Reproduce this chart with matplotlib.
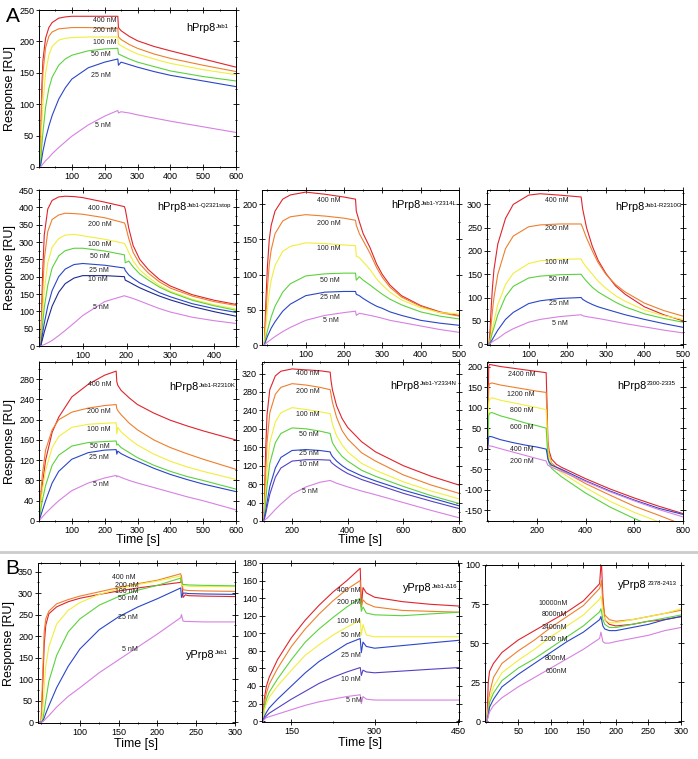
import matplotlib
matplotlib.use("Agg")
import matplotlib.pyplot as plt
from matplotlib.lines import Line2D
from matplotlib.ticker import AutoMinorLocator

plt.rcParams["font.family"] = ["Liberation Sans", "DejaVu Sans"]
plt.rcParams["axes.unicode_minus"] = False

RED = "#e0242c"
ORANGE = "#ee7f2d"
YELLOW = "#f1ee3c"
GREEN = "#5cd23c"
BLUE = "#2a46c8"
NAVY = "#1d2a90"
PURPLE = "#5241c6"
VIOLET = "#d681e2"

# ---- hPrp8 Jab1
jab1_t = [0, 4, 8, 12, 20, 30, 40, 60, 80, 100, 150, 200, 240, 242, 250, 275, 300, 350, 400, 500, 600]
jab1_y = [
    [0, 0, 120, 170, 205, 222, 230, 237, 239, 240, 240, 240, 240, 222, 217, 208, 201, 192, 185, 172, 159],
    [0, 0, 100, 150, 190, 208, 215, 220, 221, 222, 222, 221, 221, 207, 203, 195, 189, 180, 173, 162, 152],
    [0, 0, 60, 100, 150, 178, 192, 202, 205, 206, 207, 207, 207, 196, 193, 186, 180, 172, 165, 155, 147],
    [0, 0, 30, 55, 95, 125, 143, 162, 172, 178, 185, 188, 189, 180, 178, 172, 167, 160, 153, 144, 137],
    [0, 0, 12, 25, 45, 65, 82, 108, 126, 140, 158, 167, 172, 162, 167, 163, 159, 152, 146, 137, 128],
    [0, 0, 2, 5, 10, 15, 21, 31, 40, 49, 67, 81, 90, 86, 88, 86, 83, 78, 73, 64, 55],
]
jab1_conc = ["400 nM", "200 nM", "100 nM", "50 nM", "25 nM", "5 nM"]

# ---- hPrp8 Jab1-Q2321stop
q2321_t = [0, 4, 8, 12, 20, 30, 45, 60, 80, 100, 150, 195, 197, 205, 215, 230, 250, 275, 300, 350, 400, 450]
q2321_y = [
    [0, 0, 200, 320, 395, 420, 430, 432, 431, 428, 415, 402, 395, 340, 290, 250, 220, 192, 173, 148, 132, 120],
    [0, 0, 150, 250, 330, 365, 378, 383, 382, 380, 370, 355, 350, 310, 270, 237, 210, 185, 167, 144, 128, 117],
    [0, 0, 90, 160, 240, 285, 310, 320, 322, 318, 308, 296, 292, 270, 245, 220, 198, 175, 158, 135, 119, 107],
    [0, 0, 60, 110, 175, 225, 260, 275, 282, 282, 274, 263, 240, 245, 228, 208, 190, 170, 155, 132, 116, 103],
    [0, 0, 35, 65, 115, 160, 200, 222, 235, 238, 233, 225, 218, 205, 195, 182, 170, 154, 142, 122, 108, 97],
    [0, 0, 20, 40, 75, 115, 155, 180, 196, 203, 203, 200, 190, 185, 178, 168, 157, 144, 133, 114, 99, 86],
    [0, 0, 2, 4, 9, 16, 30, 45, 66, 88, 128, 145, 144, 141, 137, 130, 120, 108, 98, 83, 73, 65],
]
q2321_conc = ["400 nM", "200 nM", "100 nM", "50 nM", "25 nM", "10 nM", "5 nM"]

# ---- hPrp8 Jab1-Y2314L
y2314_t = [-8, -4, 0, 5, 10, 20, 40, 60, 100, 150, 200, 230, 232, 240, 250, 268, 285, 300, 320, 350, 400, 450, 500]
y2314_y = [
    [0, 60, 110, 150, 170, 190, 207, 213, 217, 214, 210, 207, 190, 175, 158, 138, 115, 100, 85, 70, 56, 47, 42],
    [0, 40, 80, 115, 135, 158, 176, 182, 185, 183, 180, 177, 170, 158, 148, 130, 110, 96, 82, 68, 55, 46, 41],
    [0, 25, 50, 75, 92, 113, 133, 140, 145, 144, 142, 141, 126, 124, 118, 107, 94, 85, 75, 64, 53, 46, 44],
    [0, 10, 20, 30, 40, 55, 75, 87, 98, 101, 102, 102, 92, 97, 92, 85, 78, 72, 65, 57, 47, 41, 37],
    [0, 6, 12, 18, 24, 33, 48, 58, 70, 75, 76, 76, 72, 70, 66, 60, 55, 52, 47, 42, 35, 31, 28],
    [0, 2, 4, 6, 8, 12, 19, 25, 35, 42, 46, 48, 42, 45, 44, 42, 40, 38, 35, 32, 27, 22, 18],
]
y2314_conc = ["400 nM", "200 nM", "100 nM", "50 nM", "25 nM", "5 nM"]

# ---- hPrp8 Jab1-R2310G
r2310g_t = [-3, 0, 3, 6, 10, 20, 40, 60, 100, 130, 180, 236, 240, 250, 265, 280, 300, 325, 350, 400, 450, 500]
r2310g_y = [
    [0, 30, 80, 120, 160, 215, 270, 300, 320, 323, 320, 316, 290, 250, 210, 180, 152, 125, 107, 80, 63, 50],
    [0, 15, 45, 70, 100, 150, 205, 232, 252, 256, 258, 258, 250, 228, 200, 175, 150, 128, 112, 88, 72, 60],
    [0, 7, 20, 33, 48, 85, 128, 152, 173, 179, 182, 183, 176, 165, 150, 135, 120, 104, 92, 73, 61, 53],
    [0, 5, 15, 25, 35, 63, 102, 124, 142, 146, 149, 150, 145, 135, 122, 112, 102, 90, 80, 65, 55, 47],
    [0, 2, 6, 10, 16, 30, 53, 68, 87, 93, 98, 100, 96, 91, 85, 80, 75, 69, 63, 53, 44, 36],
    [0, 1, 3, 5, 7, 12, 24, 33, 47, 53, 59, 63, 61, 59, 57, 55, 52, 48, 44, 37, 30, 24],
]
r2310g_conc = ["400 nM", "200 nM", "100 nM", "50 nM", "25 nM", "5 nM"]

# ---- hPrp8 Jab1-R2310K
r2310k_t = [0, 3, 6, 10, 20, 40, 60, 100, 150, 200, 235, 237, 240, 250, 275, 300, 350, 400, 450, 500, 600]
r2310k_y = [
    [0, 20, 45, 70, 120, 175, 205, 245, 270, 288, 296, 275, 268, 258, 243, 230, 213, 199, 188, 178, 160],
    [0, 30, 60, 90, 140, 180, 200, 215, 223, 228, 230, 222, 218, 210, 193, 180, 160, 145, 133, 122, 102],
    [0, 20, 40, 60, 100, 145, 167, 185, 191, 193, 194, 172, 185, 176, 162, 150, 132, 118, 107, 98, 82],
    [0, 12, 25, 40, 70, 110, 130, 148, 155, 157, 158, 150, 152, 145, 135, 125, 110, 98, 88, 80, 63],
    [0, 6, 12, 20, 40, 75, 98, 122, 135, 140, 141, 132, 138, 133, 125, 118, 104, 92, 82, 73, 58],
    [0, 2, 5, 8, 15, 28, 40, 60, 75, 85, 90, 87, 89, 86, 80, 75, 66, 57, 48, 40, 22],
]
r2310k_conc = ["400 nM", "200 nM", "100 nM", "50 nM", "25 nM", "5 nM"]

# ---- hPrp8 Jab1-Y2334N
y2334_t = [99, 102, 105, 110, 120, 140, 160, 200, 250, 300, 337, 340, 345, 360, 380, 400, 450, 500, 600, 700, 800]
y2334_y = [
    [0, 80, 150, 230, 285, 315, 325, 330, 328, 326, 323, 305, 285, 250, 222, 203, 172, 150, 120, 97, 78],
    [0, 55, 100, 170, 235, 275, 290, 298, 295, 290, 285, 275, 258, 225, 196, 178, 148, 130, 100, 78, 60],
    [0, 35, 60, 110, 170, 215, 235, 246, 242, 237, 233, 225, 210, 185, 165, 150, 125, 110, 85, 65, 48],
    [0, 22, 40, 75, 125, 170, 190, 202, 200, 195, 190, 182, 170, 155, 140, 130, 110, 97, 75, 55, 38],
    [0, 12, 20, 40, 75, 115, 138, 153, 155, 153, 150, 145, 140, 130, 120, 112, 98, 87, 67, 50, 33],
    [0, 8, 15, 30, 58, 95, 115, 130, 133, 133, 132, 128, 125, 118, 110, 103, 90, 80, 60, 43, 27],
    [0, 2, 4, 6, 12, 25, 37, 58, 74, 84, 88, 87, 86, 82, 78, 74, 65, 57, 40, 23, 7],
]
y2334_conc = ["400 nM", "200 nM", "100 nM", "50 nM", "25 nM", "10 nM", "5 nM"]

# ---- hPrp8 2300-2335
p2300_t = [-2, 0, 2, 5, 15, 50, 100, 150, 200, 238, 241, 245, 250, 260, 280, 300, 400, 500, 600, 700, 800]
p2300_y = [
    [0, 100, 200, 205, 204, 200, 196, 192, 188, 185, 120, 20, -5, -25, -38, -45, -73, -98, -120, -140, -158],
    [0, 80, 150, 158, 160, 155, 150, 145, 140, 137, 90, 10, -15, -35, -45, -52, -85, -113, -140, -162, -185],
    [0, 60, 110, 120, 124, 118, 112, 106, 100, 95, 60, 0, -20, -40, -50, -58, -95, -128, -155, -178, -200],
    [0, 40, 80, 86, 88, 80, 72, 63, 56, 50, 20, -20, -35, -48, -58, -68, -108, -142, -170, -195, -220],
    [0, 15, 28, 30, 29, 22, 15, 9, 4, -1, -10, -25, -32, -40, -45, -50, -78, -103, -125, -145, -160],
    [0, 4, 6, 7, 6, 0, -8, -16, -24, -30, -35, -40, -42, -45, -50, -55, -80, -105, -127, -148, -166],
]
p2300_conc = ["2400 nM", "1200 nM", "800 nM", "600 nM", "400 nM", "200 nM"]

# ---- yPrp8 Jab1
yjab1_t = [46, 50, 52, 54, 56, 60, 70, 85, 100, 125, 150, 175, 200, 230, 231, 233, 236, 240, 260, 300]
yjab1_y = [
    [0, 0, 80, 180, 225, 252, 268, 280, 288, 297, 305, 312, 318, 325, 340, 290, 296, 294, 293, 292],
    [0, 0, 110, 210, 240, 258, 275, 285, 293, 303, 313, 322, 330, 345, 330, 308, 307, 306, 305, 304],
    [0, 0, 20, 80, 130, 175, 228, 260, 278, 297, 310, 320, 328, 340, 320, 317, 317, 316, 315, 315],
    [0, 0, 5, 25, 50, 95, 155, 210, 240, 272, 292, 307, 318, 335, 325, 320, 320, 319, 318, 317],
    [0, 0, 2, 10, 20, 38, 80, 130, 170, 215, 245, 268, 287, 312, 290, 300, 300, 299, 298, 297],
    [0, 0, 1, 4, 8, 15, 35, 60, 80, 115, 145, 175, 205, 243, 250, 235, 234, 234, 233, 233],
]
yjab1_conc = ["400 nM", "200 nM", "100 nM", "50 nM", "25 nM", "5 nM"]

# ---- yPrp8 Jab1-delta16
yd16_t = [99, 101, 105, 110, 125, 150, 175, 200, 225, 250, 274, 276, 279, 285, 300, 350, 400, 452]
yd16_y = [
    [0, 25, 40, 50, 70, 95, 115, 132, 147, 160, 174, 130, 152, 146, 141, 136, 133, 131],
    [0, 20, 32, 42, 60, 85, 105, 122, 137, 150, 160, 130, 138, 134, 130, 126, 125, 124],
    [0, 15, 25, 33, 48, 70, 90, 105, 118, 130, 140, 125, 130, 123, 121, 120, 122, 124],
    [0, 12, 20, 27, 40, 58, 75, 87, 98, 107, 115, 98, 110, 98, 96, 96, 96, 96],
    [0, 5, 10, 15, 25, 40, 55, 68, 78, 88, 94, 78, 90, 85, 83, 86, 89, 92],
    [0, 3, 6, 9, 15, 25, 34, 43, 50, 56, 61, 52, 58, 56, 55, 57, 59, 61],
    [0, 2, 4, 5, 8, 13, 18, 22, 25, 28, 30, 20, 28, 25, 24, 24, 24, 24],
]
yd16_conc = ["400 nM", "200 nM", "100 nM", "50 nM", "25 nM", "10 nM", "5 nM"]

# ---- yPrp8 2378-2413
y2378_t = [-1, 2, 4, 6, 12, 25, 50, 75, 100, 125, 150, 175, 177, 178, 180, 183, 190, 200, 225, 250, 275, 300]
y2378_y = [
    [0, 0, 25, 32, 37, 44, 52, 58, 64, 70, 77, 88, 100, 100, 80, 65, 62, 61, 62, 64, 65, 67],
    [0, 0, 10, 18, 28, 37, 45, 52, 60, 67, 74, 85, 88, 90, 75, 68, 65, 64, 65, 67, 69, 71],
    [0, 0, 7, 14, 22, 31, 39, 46, 54, 61, 68, 78, 80, 78, 70, 65, 63, 63, 65, 67, 69, 72],
    [0, 0, 5, 12, 18, 26, 34, 40, 47, 54, 61, 70, 72, 70, 65, 62, 60, 60, 62, 64, 66, 68],
    [0, 0, 4, 9, 14, 22, 30, 37, 44, 51, 57, 65, 67, 65, 61, 59, 58, 58, 60, 62, 65, 67],
    [0, 0, 3, 6, 10, 15, 22, 28, 34, 40, 46, 53, 57, 55, 51, 50, 50, 51, 53, 55, 58, 60],
]
y2378_conc = ["10000nM", "8000nM", "2400nM", "1200 nM", "800nM", "600nM"]

COLS6 = [RED, ORANGE, YELLOW, GREEN, BLUE, VIOLET]

W, H = 698, 759
fig = plt.figure(figsize=(W / 100, H / 100), dpi=100)


def panel(box, t, curves, colors, conc, conc_xy, name, sup, title_xy,
          xlim, ylim, xticks, yticks, xlabel=False, ylabel=False, xlab_y=-0.08):
    l, tp, r, b = box
    ax = fig.add_axes([l / W, 1 - b / H, (r - l) / W, (b - tp) / H])
    for y, c in zip(curves, colors):
        ax.plot(t, y, color=c, lw=0.8)
    for lab, (x, y) in zip(conc, conc_xy):
        ax.text(x, y, lab, fontsize=5, ha="center", va="center", color="#222222")
    ax.set_xlim(*xlim)
    ax.set_ylim(*ylim)
    ax.set_xticks(xticks)
    ax.set_yticks(yticks)
    ax.xaxis.set_minor_locator(AutoMinorLocator(2))
    ax.yaxis.set_minor_locator(AutoMinorLocator(2))
    ax.tick_params(which="both", direction="inout", top=True, right=True,
                   labelsize=6.5, width=0.6, pad=1.5)
    ax.tick_params(which="major", length=4)
    ax.tick_params(which="minor", length=2)
    for s in ax.spines.values():
        s.set_linewidth(0.7)
    txt = ax.text(title_xy[0], title_xy[1], name, transform=ax.transAxes,
                  fontsize=7.8, ha="left", va="center")
    ax.annotate(sup, xy=(1.0, 0.95), xycoords=txt, xytext=(0.2, 0),
                textcoords="offset points", fontsize=4.3, ha="left", va="top")
    if ylabel:
        ax.set_ylabel("Response [RU]", fontsize=9)
        ax.yaxis.set_label_coords(-0.115, 0.5)
    if xlabel:
        ax.set_xlabel("Time [s]", fontsize=9)
        ax.xaxis.set_label_coords(0.5, xlab_y)
    return ax


panel((39, 10, 236, 167), jab1_t, jab1_y, COLS6, jab1_conc,
      [(200, 234), (200, 217), (200, 199), (189, 179), (189, 145), (194, 66)],
      "hPrp8", "Jab1", (0.746, 0.885), (0, 600), (0, 250),
      range(100, 601, 100), range(0, 251, 50), ylabel=True)

panel((39, 190, 236, 346), q2321_t, q2321_y,
      [RED, ORANGE, YELLOW, GREEN, BLUE, NAVY, VIOLET], q2321_conc,
      [(138, 398), (138, 351), (138, 294), (138, 258), (138, 218), (135, 192), (142, 112)],
      "hPrp8", "Jab1-Q2321stop", (0.60, 0.89), (0, 450), (0, 450),
      range(100, 401, 100), range(0, 451, 50), ylabel=True)

panel((262, 190, 459, 345), y2314_t, y2314_y, COLS6, y2314_conc,
      [(160, 205), (160, 173), (160, 137), (162, 92), (162, 68), (166, 35)],
      "hPrp8", "Jab1-Y2314L", (0.655, 0.90), (-14, 500), (0, 220),
      range(100, 501, 100), range(0, 201, 50))

panel((487, 190, 683, 345), r2310g_t, r2310g_y, COLS6, r2310g_conc,
      [(173, 308), (173, 249), (173, 175), (178, 139), (178, 87), (180, 45)],
      "hPrp8", "Jab1-R2310G", (0.653, 0.89), (-8, 500), (-2, 331),
      range(100, 501, 100), range(0, 301, 50))

panel((39, 362, 236, 521), r2310k_t, r2310k_y, COLS6, r2310k_conc,
      [(186, 269), (181, 216), (181, 181), (184, 148), (184, 125), (188, 72)],
      "hPrp8", "Jab1-R2310K", (0.66, 0.84), (0, 600), (0, 314),
      range(100, 601, 100), range(0, 281, 40), xlabel=True, ylabel=True)

panel((262, 362, 459, 521), y2334_t, y2334_y,
      [RED, ORANGE, YELLOW, GREEN, BLUE, PURPLE, VIOLET], y2334_conc,
      [(256, 319), (256, 281), (256, 230), (262, 188), (262, 146), (262, 123), (265, 64)],
      "hPrp8", "Jab1-Y2334N", (0.65, 0.85), (92, 800), (0, 345),
      range(200, 801, 200), range(0, 321, 40), xlabel=True)

panel((487, 362, 683, 521), p2300_t, p2300_y, COLS6, p2300_conc,
      [(138, 180), (133, 133), (138, 92), (138, 51), (138, -2), (138, -30)],
      "hPrp8", "2300-2335", (0.663, 0.85), (-5, 800), (-176, 211),
      range(200, 801, 200), range(-150, 201, 50))

panel((38, 563, 235, 723), yjab1_t, yjab1_y, COLS6, yjab1_conc,
      [(156, 336), (160, 318), (160, 303), (162, 288), (162, 244), (165, 168)],
      "yPrp8", "Jab1", (0.75, 0.425), (46, 300), (-2, 370),
      range(100, 301, 50), range(0, 351, 50), xlabel=True, ylabel=True, xlab_y=-0.095)

panel((262, 563, 459, 722), yd16_t, yd16_y,
      [RED, ORANGE, GREEN, YELLOW, BLUE, PURPLE, VIOLET], yd16_conc,
      [(253, 149), (253, 135), (253, 113), (258, 97), (258, 75), (258, 47), (262, 24)],
      "yPrp8", "Jab1-\u039416", (0.716, 0.84), (97, 452), (-1, 180),
      [150, 300, 450], range(0, 181, 20), xlabel=True, xlab_y=-0.095)

panel((485, 565, 681, 722), y2378_t, y2378_y, COLS6, y2378_conc,
      [(103, 75.5), (105, 68), (105, 60), (105, 52), (108, 40), (108, 32)],
      "yPrp8", "2378-2413", (0.68, 0.87), (-1, 300), (-0.5, 100),
      range(50, 301, 50), range(0, 101, 25))

fig.text(13 / W, 1 - 17 / H, "A", fontsize=15, ha="center", va="center")
fig.text(12 / W, 1 - 569 / H, "B", fontsize=15, ha="center", va="center")
fig.add_artist(Line2D([0, 1], [1 - 552 / H, 1 - 552 / H], transform=fig.transFigure,
                      color="#cccccc", lw=2))

fig.savefig("out.png", dpi=100)
